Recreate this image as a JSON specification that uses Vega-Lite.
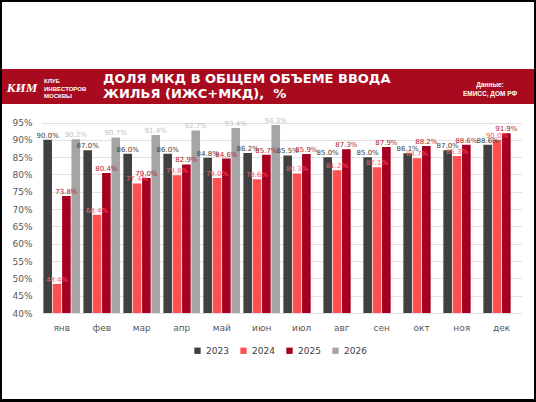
{
  "$schema": "https://vega.github.io/schema/vega-lite/v6.json",
  "background": "black",
  "padding": {"left": 2, "top": 2, "right": 2, "bottom": 3},
  "spacing": 0,
  "config": {
    "view": {"stroke": null},
    "concat": {"spacing": 0},
    "font": "DejaVu Sans"
  },
  "vconcat": [
    {
      "width": 532,
      "height": 67,
      "view": {"fill": "white", "stroke": null},
      "data": {"values": [{}]},
      "mark": {"type": "rect", "color": "white"},
      "encoding": {}
    },
    {
      "spacing": 0,
      "hconcat": [
        {
          "width": 40,
          "height": 35,
          "view": {"fill": "#A80A1E", "stroke": null},
          "data": {"values": [{}]},
          "mark": {"type": "rect", "color": "#A80A1E"},
          "encoding": {},
          "title": {"text": "КИМ", "anchor": "middle", "orient": "top", "frame": "group", "offset": -26, "font": "Liberation Serif", "fontSize": 13, "fontWeight": "bold", "fontStyle": "italic", "color": "white"}
        },
        {
          "width": 58,
          "height": 35,
          "view": {"fill": "#A80A1E", "stroke": null},
          "data": {"values": [{}]},
          "mark": {"type": "rect", "color": "#A80A1E"},
          "encoding": {},
          "title": {"text": ["КЛУБ", "ИНВЕСТОРОВ", "МОСКВЫ"], "anchor": "start", "orient": "top", "frame": "group", "offset": -30, "dx": 2, "lineHeight": 7.5, "font": "Liberation Sans", "fontSize": 6, "fontWeight": "bold", "color": "white"}
        },
        {
          "width": 346,
          "height": 35,
          "view": {"fill": "#A80A1E", "stroke": null},
          "data": {"values": [{}]},
          "mark": {"type": "rect", "color": "#A80A1E"},
          "encoding": {},
          "title": {"text": ["ДОЛЯ МКД В ОБЩЕМ ОБЪЕМЕ ВВОДА", "ЖИЛЬЯ (ИЖС+МКД),\u00a0 %"], "anchor": "start", "orient": "top", "frame": "group", "offset": -32, "dx": 3, "lineHeight": 15, "font": "DejaVu Sans", "fontSize": 13, "fontWeight": "bold", "color": "white"}
        },
        {
          "width": 88,
          "height": 35,
          "view": {"fill": "#A80A1E", "stroke": null},
          "data": {"values": [{}]},
          "mark": {"type": "rect", "color": "#A80A1E"},
          "encoding": {},
          "title": {"text": ["Данные:", "ЕМИСС, ДОМ РФ"], "anchor": "middle", "orient": "top", "frame": "group", "offset": -28, "lineHeight": 9, "font": "Liberation Sans", "fontSize": 6.5, "fontWeight": "bold", "color": "white"}
        }
      ]
    },
    {
      "width": 532,
      "height": 295,
      "view": {"fill": "white", "stroke": null},
      "data": {
        "values": [
          {"month": "янв", "year": "2023", "value": 0.900},
          {"month": "янв", "year": "2024", "value": 0.484},
          {"month": "янв", "year": "2025", "value": 0.738},
          {"month": "янв", "year": "2026", "value": 0.902},
          {"month": "фев", "year": "2023", "value": 0.870},
          {"month": "фев", "year": "2024", "value": 0.684},
          {"month": "фев", "year": "2025", "value": 0.804},
          {"month": "фев", "year": "2026", "value": 0.907},
          {"month": "мар", "year": "2023", "value": 0.860},
          {"month": "мар", "year": "2024", "value": 0.774},
          {"month": "мар", "year": "2025", "value": 0.790},
          {"month": "мар", "year": "2026", "value": 0.914},
          {"month": "апр", "year": "2023", "value": 0.860},
          {"month": "апр", "year": "2024", "value": 0.798},
          {"month": "апр", "year": "2025", "value": 0.829},
          {"month": "апр", "year": "2026", "value": 0.927},
          {"month": "май", "year": "2023", "value": 0.848},
          {"month": "май", "year": "2024", "value": 0.790},
          {"month": "май", "year": "2025", "value": 0.846},
          {"month": "май", "year": "2026", "value": 0.934},
          {"month": "июн", "year": "2023", "value": 0.862},
          {"month": "июн", "year": "2024", "value": 0.786},
          {"month": "июн", "year": "2025", "value": 0.857},
          {"month": "июн", "year": "2026", "value": 0.943},
          {"month": "июл", "year": "2023", "value": 0.855},
          {"month": "июл", "year": "2024", "value": 0.803},
          {"month": "июл", "year": "2025", "value": 0.859},
          {"month": "авг", "year": "2023", "value": 0.850},
          {"month": "авг", "year": "2024", "value": 0.812},
          {"month": "авг", "year": "2025", "value": 0.873},
          {"month": "сен", "year": "2023", "value": 0.850},
          {"month": "сен", "year": "2024", "value": 0.821},
          {"month": "сен", "year": "2025", "value": 0.879},
          {"month": "окт", "year": "2023", "value": 0.861},
          {"month": "окт", "year": "2024", "value": 0.847},
          {"month": "окт", "year": "2025", "value": 0.882},
          {"month": "ноя", "year": "2023", "value": 0.870},
          {"month": "ноя", "year": "2024", "value": 0.853},
          {"month": "ноя", "year": "2025", "value": 0.886},
          {"month": "дек", "year": "2023", "value": 0.886},
          {"month": "дек", "year": "2024", "value": 0.900},
          {"month": "дек", "year": "2025", "value": 0.919}
        ]
      },
      "encoding": {
        "x": {
          "field": "month",
          "type": "nominal",
          "sort": ["янв", "фев", "мар", "апр", "май", "июн", "июл", "авг", "сен", "окт", "ноя", "дек"],
          "scale": {"range": [39.7, 519.7], "paddingInner": 0.083, "paddingOuter": 0.042},
          "axis": {"title": null, "orient": "bottom", "offset": -86, "domain": false, "ticks": false, "labelPadding": 10, "labelAngle": 0, "labelFontSize": 9, "labelColor": "#595959", "labelFont": "DejaVu Sans", "grid": false}
        },
        "xOffset": {
          "field": "year",
          "type": "nominal",
          "scale": {"domain": ["2023", "2024", "2025", "2026"], "paddingInner": 0.08, "paddingOuter": 0}
        },
        "y": {
          "field": "value",
          "type": "quantitative",
          "scale": {"domain": [0.4, 0.95], "range": [209, 18.5], "zero": false, "nice": false},
          "axis": {"title": null, "values": [0.4, 0.45, 0.5, 0.55, 0.6, 0.65, 0.7, 0.75, 0.8, 0.85, 0.9, 0.95], "format": ".0%", "offset": -32, "domain": false, "ticks": false, "labelPadding": 2, "labelFontSize": 9, "labelColor": "#595959", "labelFont": "DejaVu Sans", "grid": true, "gridColor": "#D9D9D9", "gridWidth": 0.8}
        }
      },
      "layer": [
        {
          "mark": {"type": "bar"},
          "encoding": {
            "y2": {"datum": 0.4},
            "color": {
              "field": "year",
              "type": "nominal",
              "scale": {"domain": ["2023", "2024", "2025", "2026"], "range": ["#404040", "#FF5050", "#A50021", "#A5A5A5"]},
              "legend": {"orient": "none", "legendX": 191, "legendY": 242, "direction": "horizontal", "title": null, "symbolType": "square", "symbolSize": 40, "symbolStrokeWidth": 0, "labelFontSize": 9, "labelColor": "#404040", "labelFont": "DejaVu Sans", "columnPadding": 10, "labelOffset": 4}
            }
          }
        },
        {
          "mark": {"type": "text", "baseline": "bottom", "dy": -1, "fontSize": 7, "font": "DejaVu Sans"},
          "encoding": {
            "text": {"field": "value", "type": "quantitative", "format": ".1%"},
            "color": {
              "field": "year",
              "type": "nominal",
              "scale": {"domain": ["2023", "2024", "2025", "2026"], "range": ["#404040", "#FF5B5B", "#B5182E", "#BFBFBF"]},
              "legend": null
            }
          }
        }
      ],
      "resolve": {"scale": {"color": "independent"}}
    }
  ]
}
